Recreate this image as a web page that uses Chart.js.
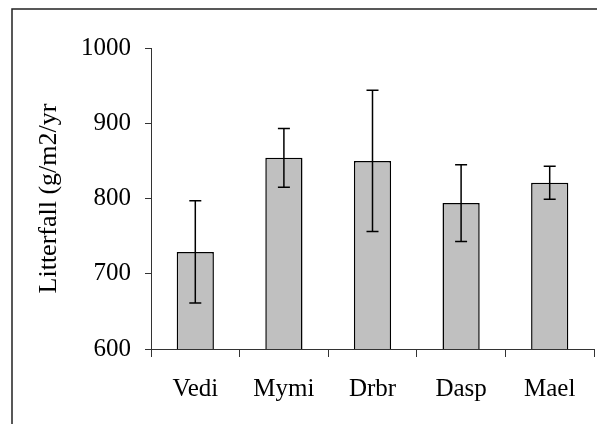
<!DOCTYPE html>
<html>
<head>
<meta charset="utf-8">
<script src="https://cdn.jsdelivr.net/npm/chart.js@4/dist/chart.umd.min.js"></script>
<style>
  html, body { margin: 0; padding: 0; background: #fff; }
  #chart { display: block; }
</style>
</head>
<body>
<canvas id="chart" width="597" height="424"></canvas>
<script>
const categories = ["Vedi", "Mymi", "Drbr", "Dasp", "Mael"];
const litterfall = [729, 854, 850, 794, 821];
const errors = [68, 39, 94, 51, 22];
const yTicks = [600, 700, 800, 900, 1000];

const serif = "'Liberation Serif', 'Times New Roman', serif";

// frame around the figure (only left and top edges are visible)
const framePlugin = {
    id: "frame",
    beforeDraw(c) {
        const ctx = c.ctx;
        ctx.save();
        ctx.strokeStyle = "#222";
        ctx.lineWidth = 1.5;
        ctx.beginPath();
        ctx.moveTo(12, 430);
        ctx.lineTo(12, 9);
        ctx.lineTo(600, 9);
        ctx.stroke();
        ctx.restore();
    }
};

// error bars drawn through the y scale
const errorBars = {
    id: "errorBars",
    afterDatasetsDraw(c) {
        const ctx = c.ctx;
        const meta = c.getDatasetMeta(0);
        const y = c.scales.y;
        ctx.save();
        ctx.strokeStyle = "#000";
        ctx.lineWidth = 1.5;
        meta.data.forEach((bar, i) => {
            const x = bar.x;
            const top = y.getPixelForValue(litterfall[i] + errors[i]);
            const bot = y.getPixelForValue(litterfall[i] - errors[i]);
            ctx.beginPath();
            ctx.moveTo(x, top);
            ctx.lineTo(x, bot);
            ctx.moveTo(x - 6, top);
            ctx.lineTo(x + 6, top);
            ctx.moveTo(x - 6, bot);
            ctx.lineTo(x + 6, bot);
            ctx.stroke();
        });
        ctx.restore();
    }
};

new Chart(document.getElementById("chart"), {
    type: "bar",
    data: {
        labels: categories,
        datasets: [{
            label: "Litterfall",
            data: litterfall,
            backgroundColor: "#c0c0c0",
            borderColor: "#000",
            borderWidth: 1.5,
            borderSkipped: false,
            categoryPercentage: 1,
            barPercentage: 0.42
        }]
    },
    options: {
        responsive: false,
        animation: false,
        layout: { padding: { left: 12, top: 48, right: 3, bottom: 0 } },
        plugins: {
            legend: { display: false },
            tooltip: { enabled: false }
        },
        scales: {
            x: {
                afterFit(s) { s.height = 75; },
                grid: {
                    offset: true,
                    drawOnChartArea: false,
                    drawTicks: true,
                    tickLength: 8,
                    color: "#333"
                },
                border: { color: "#333", width: 1 },
                ticks: {
                    color: "#000",
                    padding: 17,
                    font: { family: serif, size: 25 }
                }
            },
            y: {
                min: 600,
                max: 1000,
                afterFit(s) { s.width = 139; },
                afterBuildTicks(s) { s.ticks = yTicks.map(v => ({ value: v })); },
                grid: {
                    drawOnChartArea: false,
                    drawTicks: true,
                    tickLength: 6,
                    color: "#333"
                },
                border: { color: "#333", width: 1 },
                ticks: {
                    color: "#000",
                    padding: 14,
                    font: { family: serif, size: 25 },
                    callback: v => String(v)
                },
                title: {
                    display: true,
                    text: "Litterfall (g/m2/yr",
                    color: "#000",
                    padding: { top: 22, bottom: 0 },
                    font: { family: serif, size: 26 }
                }
            }
        }
    },
    plugins: [framePlugin, errorBars]
});
</script>
</body>
</html>
